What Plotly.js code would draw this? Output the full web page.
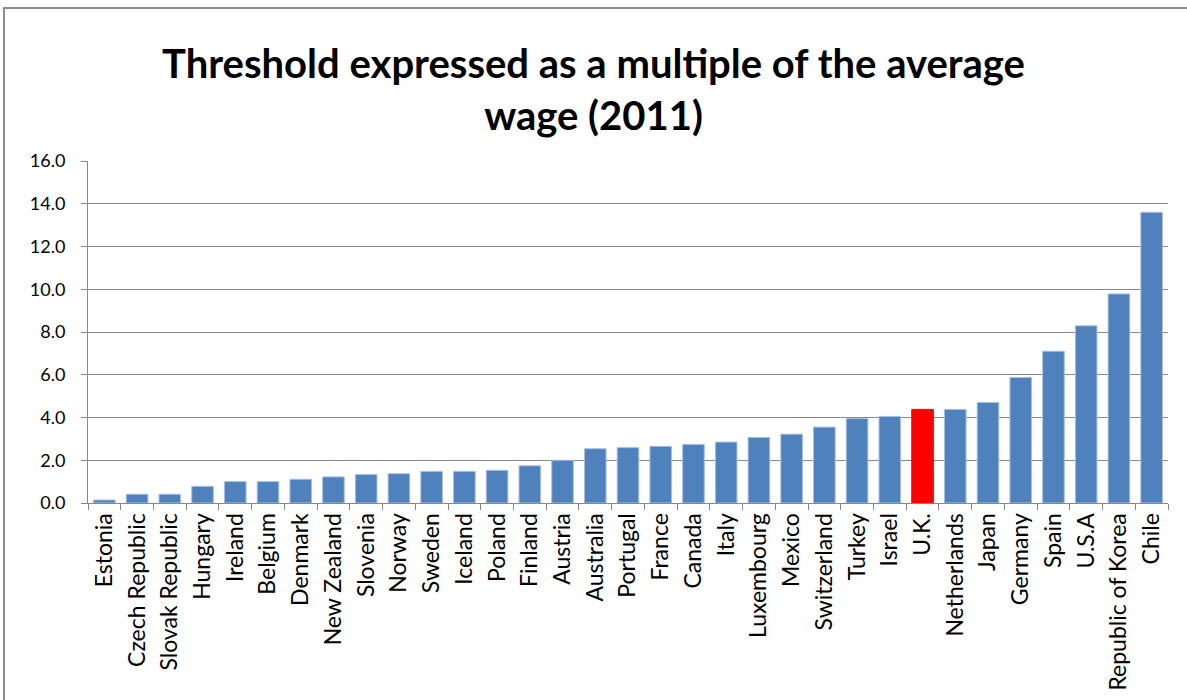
<!DOCTYPE html>
<html>
<head>
<meta charset="utf-8">
<script src="https://cdn.plot.ly/plotly-3.0.1.min.js"></script>
<style>
  html, body { margin: 0; padding: 0; background: #fff; }
  #frame { position: absolute; left: 3px; top: 7px; width: 1200px; height: 720px;
           border-left: 2px solid #8c8c8c; border-top: 2px solid #8c8c8c; }
  #chart { position: absolute; left: 0; top: 0; width: 1187px; height: 700px; }
</style>
</head>
<body>
<div id="frame"></div>
<div id="chart"></div>
<script>
// Countries in ascending order of threshold
const countries = [
  "Estonia", "Czech Republic", "Slovak Republic", "Hungary", "Ireland", "Belgium",
  "Denmark", "New Zealand", "Slovenia", "Norway", "Sweden", "Iceland", "Poland",
  "Finland", "Austria", "Australia", "Portugal", "France", "Canada", "Italy",
  "Luxembourg", "Mexico", "Switzerland", "Turkey", "Israel", "U.K.", "Netherlands",
  "Japan", "Germany", "Spain", "U.S.A", "Republic of Korea", "Chile"
];

// Threshold as a multiple of the average wage (2011)
const thresholds = [
  0.14, 0.41, 0.41, 0.78, 1.0, 1.0,
  1.11, 1.22, 1.33, 1.37, 1.48, 1.48, 1.53,
  1.74, 2.0, 2.54, 2.59, 2.65, 2.74, 2.85,
  3.07, 3.22, 3.55, 3.95, 4.05, 4.38, 4.38,
  4.70, 5.87, 7.10, 8.29, 9.78, 13.6
];

const highlighted = "U.K.";
const yTicks = [0, 2, 4, 6, 8, 10, 12, 14, 16];

const barColors = countries.map(c => c === highlighted ? "#FF0000" : "#4F81BD");
const lineColors = countries.map(c => c === highlighted ? "#FF0000" : "#A7BFDE");

const trace = {
  type: "bar",
  x: countries,
  y: thresholds,
  marker: { color: barColors, line: { color: lineColors, width: 1 } },
  hoverinfo: "x+y"
};

const font = "Lato, 'Open Sans', 'Liberation Sans', sans-serif";

const layout = {
  width: 1187,
  height: 700,
  margin: { l: 88, r: 19, t: 161, b: 197 },
  paper_bgcolor: "rgba(0,0,0,0)",
  plot_bgcolor: "#fff",
  showlegend: false,
  bargap: 0.34,
  title: {
    text: "<b>Threshold expressed as a multiple of the average<br>wage (2011)</b>",
    font: { family: font, size: 40, color: "#000" },
    x: 0.5, xanchor: "center",
    y: 0.888, yanchor: "middle"
  },
  xaxis: {
    type: "category",
    tickangle: -90,
    tickfont: { family: font, size: 23, color: "#000" },
    ticks: "outside",
    tickson: "boundaries",
    ticklen: 6,
    tickcolor: "#888",
    showline: true,
    linecolor: "#888",
    linewidth: 1,
    showgrid: false
  },
  yaxis: {
    range: [0, 16],
    tickvals: yTicks,
    ticktext: yTicks.map(v => v.toFixed(1)),
    tickfont: { family: font, size: 18, color: "#000" },
    ticks: "outside",
    ticklen: 6,
    tickcolor: "#888",
    ticklabelstandoff: 12,
    showline: true,
    linecolor: "#888",
    linewidth: 1,
    showgrid: true,
    gridcolor: "#8a8a8a",
    gridwidth: 1,
    zeroline: false
  }
};

Plotly.newPlot("chart", [trace], layout, { displayModeBar: false, staticPlot: true });
</script>
</body>
</html>
